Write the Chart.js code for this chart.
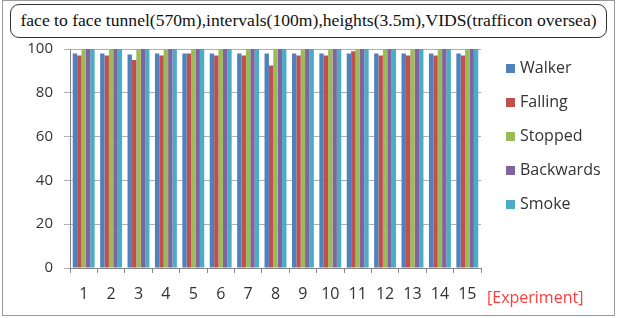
<!DOCTYPE html>
<html>
<head>
<meta charset="utf-8">
<script src="https://cdn.jsdelivr.net/npm/chart.js@4/dist/chart.umd.min.js"></script>
<style>
  html,body{margin:0;padding:0;background:#fff;}
  #wrap{position:relative;width:618px;height:318px;overflow:hidden;}
  #frame{position:absolute;left:2px;top:0px;width:613px;height:316px;border:1px solid #9a9a9a;box-sizing:border-box;}
  #title{position:absolute;left:10px;top:4px;width:597px;height:34px;box-sizing:border-box;border:1.5px solid #333;border-radius:9px;
    font-family:"Liberation Serif","DejaVu Serif",serif;font-size:17.6px;line-height:31px;text-align:center;color:#111;white-space:nowrap;background:#fff;z-index:2;}
  canvas{position:absolute;left:0;top:0;}
</style>
</head>
<body>
<div id="wrap">
  <div id="frame"></div>
  <canvas id="c" width="618" height="318"></canvas>
  <div id="title">face to face tunnel(570m),intervals(100m),heights(3.5m),VIDS(trafficon oversea)</div>
</div>
<script>
const categories = ['1','2','3','4','5','6','7','8','9','10','11','12','13','14','15'];
const seriesNames = ['Walker','Falling','Stopped','Backwards','Smoke'];
const walker    = [98,98,97.5,98,98,98,98,98,98,98,98,98,98,98,98];
const falling   = [97,97,95,97,98,97,97,92.5,97,97,99,97,97,97,97];
const stopped   = [100,100,100,100,100,100,100,100,100,100,100,100,100,100,100];
const backwards = [100,100,100,100,100,100,100,100,100,100,100,100,100,100,100];
const smoke     = [100,100,100,100,100,100,100,100,100,100,100,100,100,100,100];
const yTicks = [0,20,40,60,80,100];
const xAxisUnit = '[Experiment]';
const colors = ['#4F81BD','#C0504D','#9BBB59','#8064A2','#4BACC6'];
const values = [walker,falling,stopped,backwards,smoke];

const labelFont = '"Open Sans", "Liberation Sans", sans-serif';

const customLegend = {
  id:'customLegend',
  afterDraw(chart){
    const ctx = chart.ctx;
    ctx.save();
    ctx.font = '16px ' + labelFont;
    ctx.textBaseline = 'middle';
    chart.data.datasets.forEach((ds,i)=>{
      const y = 68 + i*34;
      ctx.fillStyle = ds.backgroundColor;
      ctx.fillRect(506, y-4, 9, 9);
      ctx.fillStyle = '#333';
      ctx.fillText(ds.label, 520, y);
    });
    ctx.fillStyle = '#ff3b3b';
    ctx.fillText(xAxisUnit, 487, 298);
    ctx.restore();
  }
};

new Chart(document.getElementById('c'), {
  type:'bar',
  data:{
    labels: categories,
    datasets: seriesNames.map((n,i)=>({
      label:n, data:values[i], backgroundColor:colors[i], borderWidth:0,
      categoryPercentage:0.8, barPercentage:1.0
    }))
  },
  options:{
    responsive:false, animation:false,
    devicePixelRatio:1,
    layout:{padding:{top:49,right:137,bottom:0,left:0}},
    plugins:{legend:{display:false}, title:{display:false}, tooltip:{enabled:false}},
    scales:{
      x:{
        grid:{drawOnChartArea:false, offset:true, tickLength:5, color:'#868686'},
        border:{color:'#868686'},
        ticks:{font:{family:labelFont,size:16}, color:'#333', padding:12, maxRotation:0, autoSkip:false},
        afterFit(s){ s.height = 50; }
      },
      y:{
        min:0, max:100,
        afterBuildTicks(s){ s.ticks = yTicks.map(v=>({value:v})); },
        grid:{color:'#b0b0b0', tickLength:6},
        border:{color:'#868686'},
        ticks:{font:{family:labelFont,size:15}, color:'#333', padding:11},
        afterFit(s){ s.width = 70; }
      }
    }
  },
  plugins:[customLegend]
});
</script>
</body>
</html>
